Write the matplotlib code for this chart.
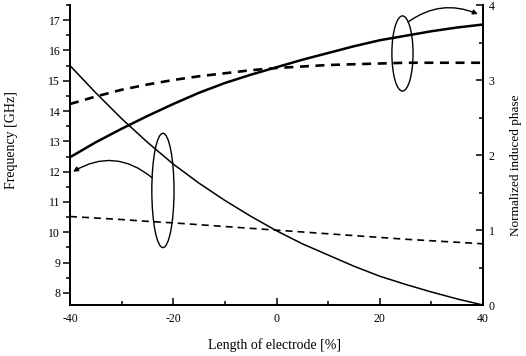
import matplotlib
matplotlib.use("Agg")
import matplotlib.pyplot as plt
from matplotlib.patches import Ellipse, FancyArrowPatch
from matplotlib.ticker import MultipleLocator

plt.rcParams['font.family'] = ['Liberation Serif', 'DejaVu Serif']
plt.rcParams['axes.unicode_minus'] = False

# Data
length = [-40, -35, -30, -25, -20, -15, -10, -5, 0, 5, 10, 15, 20, 25, 30, 35, 40]
freq_solid = [15.5, 14.6, 13.75, 12.97, 12.25, 11.62, 11.05, 10.53, 10.05,
              9.62, 9.25, 8.88, 8.55, 8.28, 8.03, 7.8, 7.6]
freq_dashed = [10.52, 10.47, 10.42, 10.36, 10.31, 10.25, 10.19, 10.13, 10.07,
               10.01, 9.95, 9.89, 9.83, 9.77, 9.72, 9.67, 9.62]
phase_solid = [1.97, 2.17, 2.35, 2.52, 2.68, 2.83, 2.96, 3.07, 3.17,
               3.27, 3.36, 3.45, 3.53, 3.59, 3.65, 3.70, 3.74]
phase_dashed = [2.68, 2.78, 2.87, 2.94, 3.00, 3.05, 3.09, 3.13, 3.16,
                3.18, 3.20, 3.21, 3.22, 3.23, 3.23, 3.23, 3.23]
x_ticks = [-40, -20, 0, 20, 40]
freq_ticks = [8, 9, 10, 11, 12, 13, 14, 15, 16, 17]
phase_ticks = [0, 1, 2, 3, 4]

W, H = 526, 356
fig = plt.figure(figsize=(W / 100, H / 100), dpi=100)
L, R, B, T = 70, 483, 305, 5
ax = fig.add_axes([L / W, 1 - B / H, (R - L) / W, (B - T) / H])
ax2 = ax.twinx()

ax.plot(length, freq_solid, color='black', lw=1.1)
ax.plot(length, freq_dashed, color='black', lw=1.2, dashes=(4.2, 3.0))
ax2.plot(length, phase_solid, color='black', lw=1.8)
ax2.plot(length, phase_dashed, color='black', lw=1.9, dashes=(3.4, 2.5))

ax.set_xlim(-40, 40)
ax.set_ylim(7.6, 17.5)
ax2.set_ylim(0, 4)

ax.set_xticks(x_ticks)
ax.xaxis.set_minor_locator(MultipleLocator(10))
ax.set_yticks(freq_ticks)
ax.yaxis.set_minor_locator(MultipleLocator(0.5))
ax2.set_yticks(phase_ticks)
ax2.yaxis.set_minor_locator(MultipleLocator(0.5))

for a in (ax, ax2):
    a.spines['top'].set_visible(False)
    for s in a.spines.values():
        s.set_linewidth(1.3)

ax.tick_params(axis='x', which='both', direction='in', labelsize=8.5, pad=6)
ax.tick_params(axis='x', which='major', length=5, width=1.1)
ax.tick_params(axis='x', which='minor', length=3, width=1.1)
ax.tick_params(axis='y', which='both', direction='out', labelsize=8.5, pad=2)
ax.tick_params(axis='y', which='major', length=5, width=1.1)
ax.tick_params(axis='y', which='minor', length=3, width=1.1)
ax2.tick_params(axis='y', which='both', direction='in', labelsize=8.5, pad=4)
ax2.tick_params(axis='y', which='major', length=5, width=1.1)
ax2.tick_params(axis='y', which='minor', length=3, width=1.1)

ax.set_xlabel('Length of electrode [%]', fontsize=10)
ax.xaxis.set_label_coords(0.496, -0.11)
ax.set_ylabel('Frequency [GHz]', fontsize=10)
ax.yaxis.set_label_coords(-0.126, 0.55)
ax2.set_ylabel('Normalized induced phase', fontsize=9.5)
ax2.yaxis.set_label_coords(1.066, 0.467)

# Annotations: ellipses and curved arrows
ax.add_patch(Ellipse((-22.0, 11.38), 4.3, 3.77, fill=False, lw=1.0, ec='black'))
ax.add_patch(Ellipse((24.4, 15.9), 4.1, 2.48, fill=False, lw=1.0, ec='black'))
ax.add_patch(FancyArrowPatch((-24.1, 11.8), (-39.4, 12.0),
                             connectionstyle='arc3,rad=0.35', arrowstyle='-|>',
                             mutation_scale=7, lw=1.0, color='black',
                             shrinkA=0, shrinkB=0))
ax.add_patch(FancyArrowPatch((25.5, 16.94), (39.0, 17.2),
                             connectionstyle='arc3,rad=-0.28', arrowstyle='-|>',
                             mutation_scale=7, lw=1.0, color='black',
                             shrinkA=0, shrinkB=0))

fig.savefig('out.png', dpi=100)
